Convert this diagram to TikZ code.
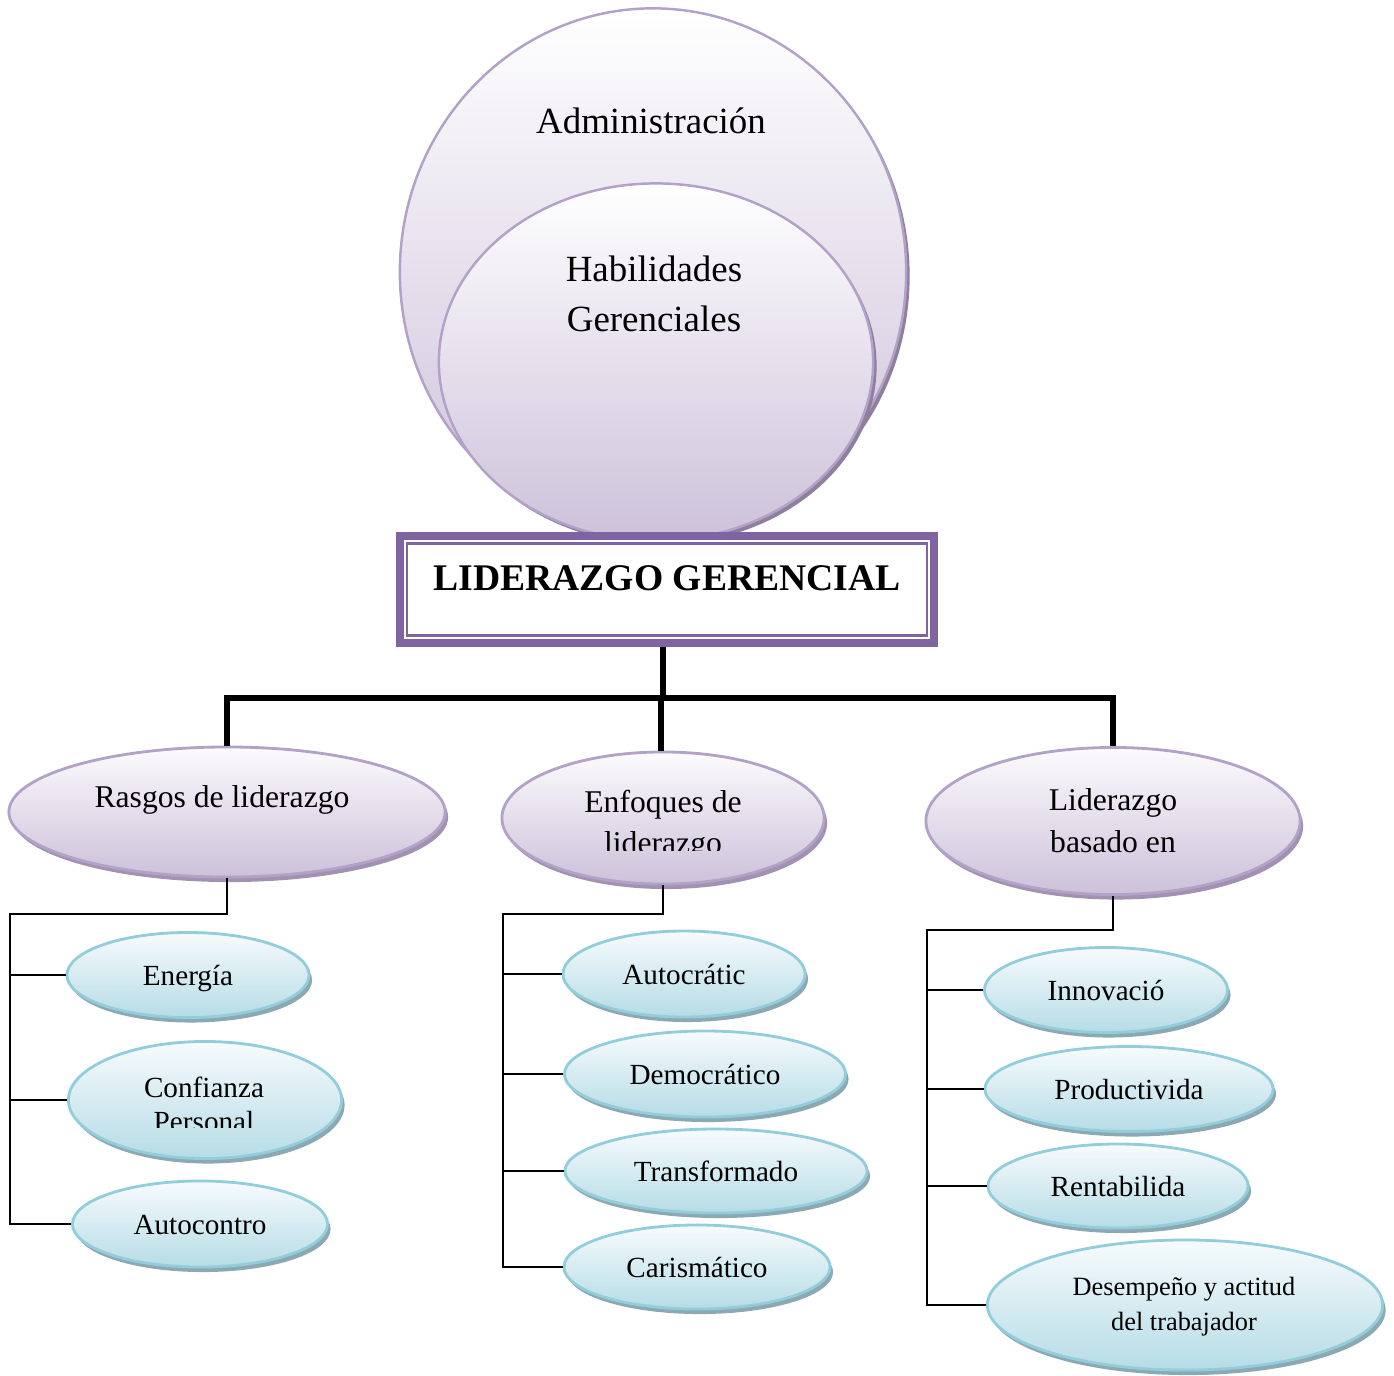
\documentclass[tikz,border=0pt]{standalone}
\usepackage{fontspec}
\setmainfont{Liberation Serif}
\usetikzlibrary{shapes.geometric,shadows,calc}
\definecolor{pbord}{HTML}{B3A2C7}
\definecolor{ptop}{HTML}{FCFBFD}
\definecolor{pbot}{HTML}{CCC1DA}
\definecolor{pshad}{HTML}{A192B2}
\definecolor{cshad}{HTML}{8E7F9E}
\definecolor{btop}{HTML}{F7FBFD}
\definecolor{bbot}{HTML}{B6DCE6}
\definecolor{bbord}{HTML}{92CDDC}
\definecolor{bshad}{HTML}{8CA8B2}
\definecolor{tbox}{HTML}{8064A2}
\begin{document}
\begin{tikzpicture}[x=0.01cm,y=-0.01cm,
  bigc/.style={ellipse, draw=pbord, line width=0.7pt, top color=white, bottom color=pbot, inner sep=0pt,
    general shadow={fill=cshad, shadow xshift=0.035cm, shadow yshift=-0.04cm}},
  pell/.style={ellipse, draw=pbord, line width=0.8pt, top color=ptop, bottom color=pbot, inner sep=0pt,
    general shadow={fill=pshad, shadow xshift=0.03cm, shadow yshift=-0.05cm}},
  bell/.style={ellipse, draw=bbord, line width=0.8pt, top color=btop, bottom color=bbot, inner sep=0pt,
    font=\fontsize{8.3}{10}\selectfont, text height=0.62em, text depth=0pt,
    general shadow={fill=bshad, shadow xshift=0.03cm, shadow yshift=-0.05cm}},
  bigtxt/.style={inner sep=0pt, anchor=base, font=\fontsize{10.5}{12.6}\selectfont},
  ptxt/.style={inner sep=0pt, anchor=base, font=\fontsize{9}{11}\selectfont},
  stxt/.style={inner sep=0pt, anchor=base, font=\fontsize{7.5}{9}\selectfont},
  trunk/.style={line width=1.6pt, black, line join=miter},
  twig/.style={line width=0.6pt, black}
]
\useasboundingbox (0,0) rectangle (1394,1375);

% circles
\node[bigc, minimum width=5.06cm, minimum height=5.27cm] (admin) at (653,272) {};
\node[bigtxt] (admintxt) at (651,133) {Administración};
\node[bigc, minimum width=4.34cm, minimum height=3.57cm] (hab) at (656,362) {};
\node[bigtxt] (habtxt1) at (654,281) {Habilidades};
\node[bigtxt] (habtxt2) at (654,331) {Gerenciales};

% title box
\node[draw=tbox, line width=2.25pt, fill=white, minimum width=5.34cm, minimum height=1.07cm, inner sep=0pt, outer sep=0pt] (title) at (667,589.5) {};
\draw[tbox, line width=0.6pt] ($(title.south west)+(7.5,-7.5)$) rectangle ($(title.north east)+(-7.5,7.5)$);
\node[bigtxt, font=\fontsize{10.7}{12.6}\selectfont\bfseries] (titletxt) at (667,590) {LIDERAZGO GERENCIAL};

% level 2
\node[pell, minimum width=4.36cm, minimum height=1.30cm] (rasgos) at (227,812) {};
\node[ptxt] (rasgostxt) at (222,807) {Rasgos de liderazgo};

\node[pell, minimum width=3.22cm, minimum height=1.32cm] (enf) at (663,818) {};
\node[ptxt] (enftxt1) at (663,812) {Enfoques de};
\begin{scope}
  \clip (560,820) rectangle (770,850);
  \node[ptxt] (enftxt2) at (663,853) {liderazgo};
\end{scope}

\node[pell, minimum width=3.74cm, minimum height=1.47cm] (lidb) at (1113,821) {};
\node[ptxt] (lidbtxt1) at (1113,810) {Liderazgo};
\node[ptxt] (lidbtxt2) at (1113,852) {basado en};

% trunk connectors
\coordinate (j0) at (663,698);
\draw[trunk] ($(title.south)+(-4,4)$) -- (j0);
\draw[trunk] (rasgos.north) -- (rasgos.north |- j0) -- (lidb.north |- j0) -- (lidb.north);
\draw[trunk] ($(enf.north |- j0)+(-2,0)$) -- ($(enf.north)+(-2,0)$);

% left leaves
\node[bell, minimum width=2.42cm, minimum height=0.85cm] (energia) at (188,975) {Energía};
\node[bell, minimum width=2.73cm, minimum height=1.17cm] (conf) at (205,1100) {};
\node[ptxt, font=\fontsize{8.3}{10}\selectfont] (conftxt1) at (204,1097) {Confianza};
\begin{scope}
  \clip (120,1100) rectangle (290,1127);
  \node[ptxt, font=\fontsize{8.3}{10}\selectfont] (conftxt2) at (204,1131) {Personal};
\end{scope}
\node[bell, minimum width=2.55cm, minimum height=0.86cm] (autoc) at (200,1224) {Autocontro};

% middle leaves
\node[bell, minimum width=2.42cm, minimum height=0.86cm] (autocr) at (684,974) {Autocrátic};
\node[bell, minimum width=2.81cm, minimum height=0.86cm] (demo) at (705,1074) {Democrático};
\node[bell, minimum width=3.02cm, minimum height=0.84cm] (trans) at (716,1171) {Transformado};
\node[bell, minimum width=2.66cm, minimum height=0.84cm] (caris) at (697,1267) {Carismático};

% right leaves
\node[bell, minimum width=2.43cm, minimum height=0.85cm] (innov) at (1106,990) {Innovació};
\node[bell, minimum width=2.88cm, minimum height=0.85cm] (prod) at (1129,1089) {Productivida};
\node[bell, minimum width=2.60cm, minimum height=0.84cm] (rent) at (1118,1186) {Rentabilida};
\node[bell, minimum width=3.95cm, minimum height=1.30cm] (desemp) at (1185,1305) {};
\node[stxt] (desemptxt1) at (1184,1295) {Desempeño y actitud};
\node[stxt] (desemptxt2) at (1184,1330) {del trabajador};

% left tree
\coordinate (sL) at (10,914);
\draw[twig] (rasgos.south) |- (sL) -- (sL |- autoc.west) -- (autoc.west);
\draw[twig] (sL |- energia.west) -- (energia.west);
\draw[twig] (sL |- conf.west) -- (conf.west);

% middle tree
\coordinate (sM) at (503,914);
\draw[twig] (enf.south) |- (sM) -- (sM |- caris.west) -- (caris.west);
\draw[twig] (sM |- autocr.west) -- (autocr.west);
\draw[twig] (sM |- demo.west) -- (demo.west);
\draw[twig] (sM |- trans.west) -- (trans.west);

% right tree
\coordinate (sR) at (927,930);
\draw[twig] (lidb.south) |- (sR) -- (sR |- desemp.west) -- (desemp.west);
\draw[twig] (sR |- innov.west) -- (innov.west);
\draw[twig] (sR |- prod.west) -- (prod.west);
\draw[twig] (sR |- rent.west) -- (rent.west);
\end{tikzpicture}
\end{document}
